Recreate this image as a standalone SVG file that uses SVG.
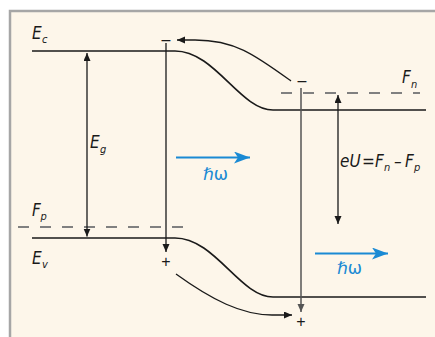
<svg xmlns="http://www.w3.org/2000/svg" width="435" height="337" viewBox="0 0 435 337">
<style>
.band{fill:none;stroke:#1a1a1a;stroke-width:1.6}
.dash{fill:none;stroke:#808080;stroke-width:2;stroke-dasharray:11 11}
.ar{fill:none;stroke:#1a1a1a;stroke-width:1.3}
.lbl{font-family:"Liberation Sans Narrow","DejaVu Sans Condensed","Liberation Sans",sans-serif;font-style:italic;fill:#1a1a1a}
.big{font-size:17px}
.sub{font-size:11px}
.sym{font-family:"Liberation Sans",sans-serif;font-size:16px;fill:#1a1a1a;text-anchor:middle}
.hw{font-family:"DejaVu Sans",sans-serif;font-size:17px;fill:#1a8ad4}
.blue{stroke:#1a8ad4;stroke-width:2;fill:none}
</style>
<defs>
<marker id="ah" markerUnits="userSpaceOnUse" markerWidth="9" markerHeight="8" refX="8" refY="3.5" orient="auto-start-reverse">
<path d="M0,0 L8,3.5 L0,7 z" fill="#1a1a1a"/>
</marker>
<marker id="ahg" markerUnits="userSpaceOnUse" markerWidth="9" markerHeight="8" refX="8" refY="3.5" orient="auto">
<path d="M0,0 L8,3.5 L0,7 z" fill="#555"/>
</marker>
<marker id="bh" markerUnits="userSpaceOnUse" markerWidth="17" markerHeight="13" refX="16" refY="6" orient="auto">
<path d="M0,0 L16,6 L0,12 L4,6 z" fill="#1a8ad4"/>
</marker>
</defs>
<rect x="0" y="0" width="435" height="337" fill="#ffffff"/>
<rect x="10" y="11" width="425" height="326" fill="#fdf6ea"/>
<path d="M10,337 L10,11 L435,11" fill="none" stroke="#a6a6a6" stroke-width="2.5"/>

<g id="conduction-band">
<path class="band" d="M32,51 L175,51 C215,51 240,110 273,110 L426,110"/>
<text class="lbl big" x="32" y="39">E</text><text class="lbl sub" x="42" y="43">c</text>
</g>
<g id="valence-band">
<path class="band" d="M32,238 L175,238 C215,238 240,297 273,297 L426,297"/>
<text class="lbl big" x="32" y="264">E</text><text class="lbl sub" x="42" y="267.5">v</text>
</g>
<g id="fermi-n">
<line class="dash" x1="281" y1="93" x2="420" y2="93"/>
<text class="lbl big" x="402" y="83">F</text><text class="lbl sub" x="411" y="88">n</text>
</g>
<g id="fermi-p">
<line class="dash" x1="18" y1="227" x2="186" y2="227"/>
<text class="lbl big" x="32" y="216">F</text><text class="lbl sub" x="40.5" y="220">p</text>
</g>
<g id="gap-label">
<text class="lbl big" x="90" y="148">E</text><text class="lbl sub" x="100" y="152.5">g</text>
</g>
<g id="eu-label">
<text class="lbl big" x="340" y="167">eU</text>
<text class="lbl big" x="362" y="167">=</text>
<text class="lbl big" x="375" y="167">F</text><text class="lbl sub" x="384" y="171">n</text>
<text class="lbl big" x="394" y="167">–</text>
<text class="lbl big" x="405" y="167">F</text><text class="lbl sub" x="414" y="171">p</text>
</g>
<g id="charges">
<text class="sym" x="166" y="44.5">–</text>
<text class="sym" x="302" y="85.5">–</text>
<text class="sym" x="166" y="267">+</text>
<text class="sym" x="301" y="326.5">+</text>
</g>
<g id="photons">
<text class="hw" x="203" y="180">ℏω</text>
<text class="hw" x="337" y="274">ℏω</text>
</g>
<g id="connectors">
<line class="ar" x1="87" y1="53" x2="87" y2="236.5" marker-start="url(#ah)" marker-end="url(#ah)"/>
<line class="ar" x1="338" y1="95" x2="338" y2="224" marker-start="url(#ah)" marker-end="url(#ah)"/>
<line class="ar" x1="166" y1="43" x2="166" y2="252" marker-end="url(#ah)"/>
<line x1="301" y1="88" x2="301" y2="312" stroke="#555" stroke-width="1.5" marker-end="url(#ahg)"/>
<path class="ar" d="M291,81 C255,55 235,40 195,40 L177,40" marker-end="url(#ah)"/>
<path class="ar" d="M176,274 C212,300 242,315 272,315 L292,315" marker-end="url(#ah)"/>
<line class="blue" x1="176" y1="157.5" x2="250" y2="157.5" marker-end="url(#bh)"/>
<line class="blue" x1="315" y1="253.5" x2="388" y2="253.5" marker-end="url(#bh)"/>
</g>
</svg>
